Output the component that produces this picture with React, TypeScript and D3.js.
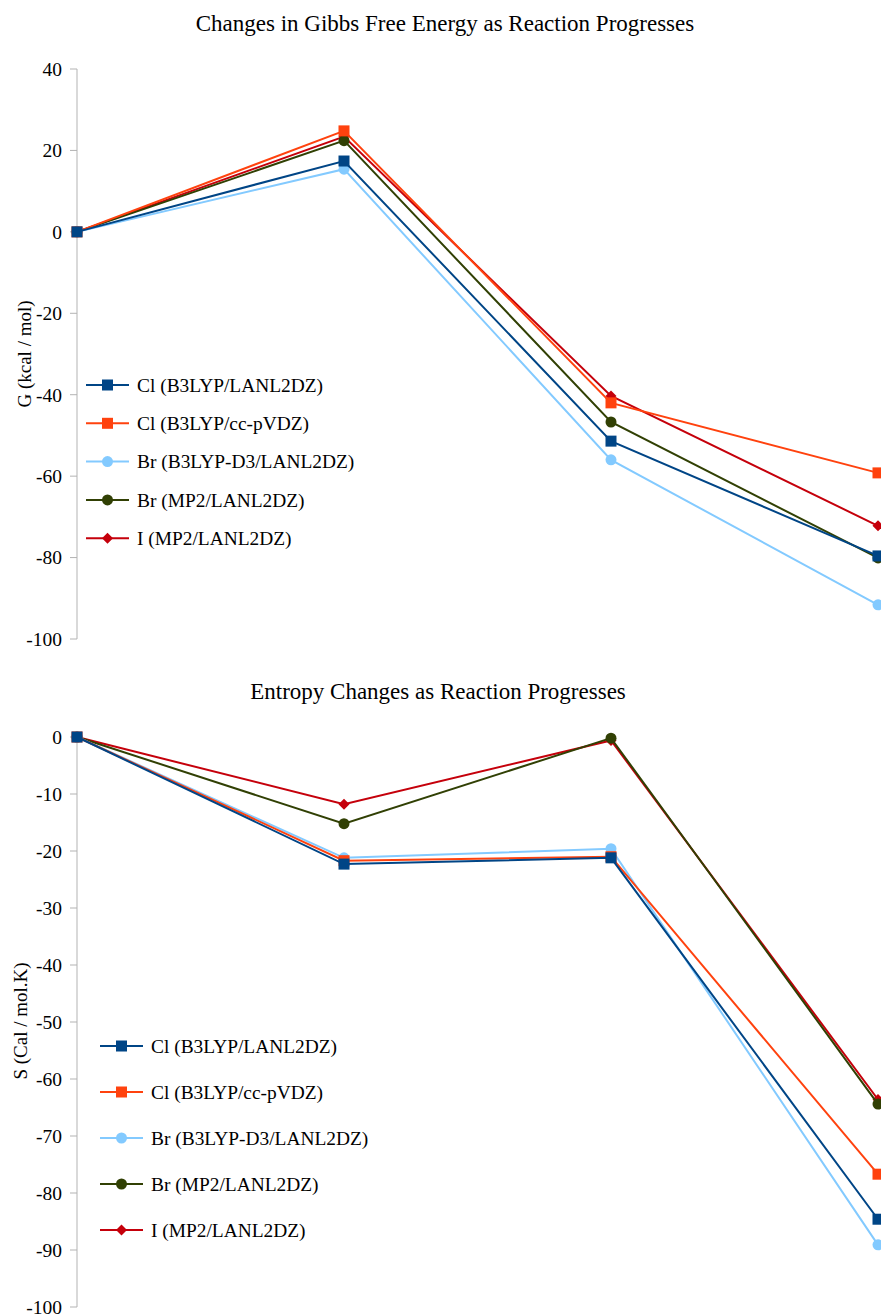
import React from 'react';
import * as d3 from 'd3';

const steps = ['1', '2', '3', '4'];
const seriesNames = [
  'Cl (B3LYP/LANL2DZ)',
  'Cl (B3LYP/cc-pVDZ)',
  'Br (B3LYP-D3/LANL2DZ)',
  'Br (MP2/LANL2DZ)',
  'I (MP2/LANL2DZ)',
];
const colors = ['#004586', '#ff420e', '#83caff', '#314004', '#c5000b'];
const markers = ['square', 'square', 'circle', 'circle', 'diamond'];

// Gibbs free energy (kcal/mol)
const gibbsValues = [
  [0, 17.4, -51.4, -79.6],
  [0, 24.8, -42.0, -59.2],
  [0, 15.4, -56.0, -91.6],
  [0, 22.4, -46.7, -80.1],
  [0, 23.4, -40.3, -72.2],
];
const gibbsTicks = [40, 20, 0, -20, -40, -60, -80, -100];

// Entropy (cal/mol.K)
const entropyValues = [
  [0, -22.3, -21.2, -84.6],
  [0, -21.7, -21.0, -76.7],
  [0, -21.2, -19.6, -89.1],
  [0, -15.2, -0.2, -64.4],
  [0, -11.8, -0.6, -63.6],
];
const entropyTicks = [0, -10, -20, -30, -40, -50, -60, -70, -80, -90, -100];

const FONT = "'Liberation Serif', 'DejaVu Serif', serif";

const Marker = ({ type, x, y, color }: { type: string; x: number; y: number; color: string }) => {
  if (type === 'square') return <rect x={x - 5.5} y={y - 5.5} width={11} height={11} fill={color} />;
  if (type === 'circle') return <circle cx={x} cy={y} r={5.5} fill={color} />;
  return <path d={`M${x},${y - 5.5}L${x + 5.5},${y}L${x},${y + 5.5}L${x - 5.5},${y}Z`} fill={color} />;
};

type ChartProps = {
  top: number;
  title: string;
  titleX: number;
  values: number[][];
  ticks: number[];
  yLabel: string;
  yLabelX: number;
  yLabelY: number;
  legendX: number;
  legendY: number;
  legendGap: number;
};

const Chart = ({ top, title, titleX, values, ticks, yLabel, yLabelX, yLabelY, legendX, legendY, legendGap }: ChartProps) => {
  const x = d3.scalePoint<string>().domain(steps).range([77, 878]);
  const y = d3.scaleLinear().domain([d3.min(ticks)!, d3.max(ticks)!]).range([top + 570, top]);
  const line = d3.line<number>().x((_, i) => x(steps[i])!).y((d) => y(d));
  const order = d3.range(values.length).reverse();
  return (
    <g>
      <text x={titleX} y={top - 38} textAnchor="middle" fontSize={23} fill="#000">{title}</text>
      <line x1={77} x2={77} y1={top} y2={top + 570} stroke="#b3b3b3" strokeWidth={1} />
      {ticks.map((t) => (
        <g key={t}>
          <line x1={70} x2={77} y1={y(t)} y2={y(t)} stroke="#b3b3b3" />
          <text x={62} y={y(t)} dy="0.35em" textAnchor="end" fontSize={19.5}>{t}</text>
        </g>
      ))}
      <text
        transform={`translate(${yLabelX},${yLabelY}) rotate(-90)`}
        textAnchor="middle"
        fontSize={19}
      >{yLabel}</text>
      {order.map((s) => (
        <g key={s}>
          <path d={line(values[s])!} fill="none" stroke={colors[s]} strokeWidth={2} />
          {values[s].map((v, i) => (
            <Marker key={i} type={markers[s]} x={x(steps[i])!} y={y(v)} color={colors[s]} />
          ))}
        </g>
      ))}
      {seriesNames.map((n, s) => {
        const ly = legendY + s * legendGap;
        return (
          <g key={n}>
            <line x1={legendX} x2={legendX + 43} y1={ly} y2={ly} stroke={colors[s]} strokeWidth={2} />
            <Marker type={markers[s]} x={legendX + 21.5} y={ly} color={colors[s]} />
            <text x={legendX + 51} y={ly} dy="0.35em" fontSize={19.4}>{n}</text>
          </g>
        );
      })}
    </g>
  );
};

export default function App() {
  return (
    <svg
      width={881}
      height={1315}
      style={{ position: 'absolute', left: 0, top: 0, background: '#fff', fontFamily: FONT }}
    >
      <rect width={881} height={1315} fill="#fff" />
      <Chart
        top={69}
        title="Changes in Gibbs Free Energy as Reaction Progresses"
        titleX={445}
        values={gibbsValues}
        ticks={gibbsTicks}
        yLabel="G (kcal / mol)"
        yLabelX={31}
        yLabelY={354}
        legendX={86}
        legendY={385}
        legendGap={38.3}
      />
      <Chart
        top={737}
        title="Entropy Changes as Reaction Progresses"
        titleX={438}
        values={entropyValues}
        ticks={entropyTicks}
        yLabel="S (Cal / mol.K)"
        yLabelX={27}
        yLabelY={1021}
        legendX={100}
        legendY={1046}
        legendGap={46}
      />
    </svg>
  );
}
